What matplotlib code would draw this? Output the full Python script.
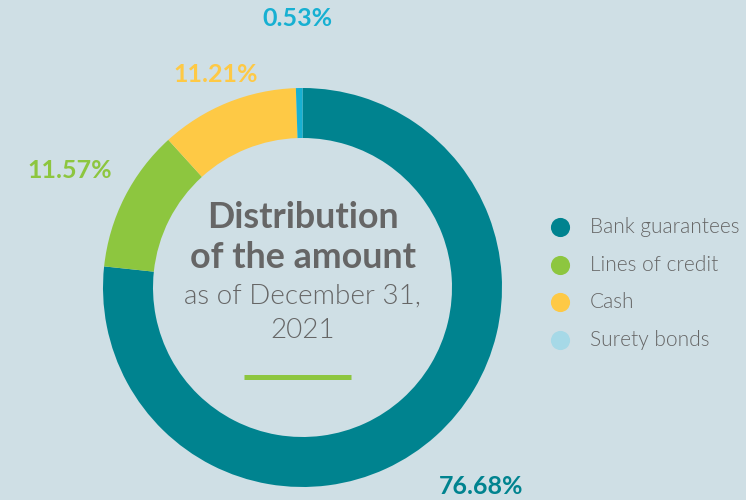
import matplotlib
matplotlib.use("Agg")
import matplotlib.pyplot as plt
from matplotlib.lines import Line2D

# Distribution of the guarantee amount as of December 31, 2021
categories = ["Bank guarantees", "Lines of credit", "Cash", "Surety bonds"]
shares = [76.68, 11.57, 11.21, 0.53]
slice_colors = ["#00838f", "#8dc63f", "#fec945", "#17b0d2"]
legend_colors = ["#00838f", "#8dc63f", "#fec945", "#a6d9e7"]
label_colors = ["#00838f", "#8dc63f", "#fec945", "#17b0d2"]

title_bold = ["Distribution", "of the amount"]
title_light = ["as of December 31,", "2021"]

BG = "#cfdfe5"
TEXT = "#666666"
W, H = 746, 500

fig = plt.figure(figsize=(W / 100, H / 100), dpi=100, facecolor=BG)
ax = fig.add_axes([0, 0, 1, 1])
ax.set_facecolor(BG)

def Y(py):
    return H - py

cx, cy = 302.5, Y(287.5)
r_out, ring = 199.5, 50

ax.pie(shares, colors=slice_colors, startangle=90, counterclock=False,
       center=(cx, cy), radius=r_out,
       wedgeprops=dict(width=ring, linewidth=0))
ax.set_xlim(0, W)
ax.set_ylim(0, H)
ax.set_aspect("equal")
ax.axis("off")

# percentage labels around the ring
label_pos = [(481, 487), (70, 171), (216, 74), (297, 19)]
for val, col, (px, py) in zip(shares, label_colors, label_pos):
    ax.text(px, Y(py), f"{val:.2f}%", color=col, fontsize=18,
            fontweight="bold", family="Lato", ha="center", va="center")

# centre caption
for txt, py in zip(title_bold, [217, 258]):
    ax.text(cx, Y(py), txt, color=TEXT, fontsize=25.8, fontweight="bold",
            family="Lato", ha="center", va="center")
for txt, py in zip(title_light, [296, 330]):
    ax.text(cx, Y(py), txt, color=TEXT, fontsize=20, fontweight=300,
            family="Lato", ha="center", va="center")
ax.add_line(Line2D([244, 351], [Y(376.5), Y(376.5)], color="#8dc63f",
                   linewidth=3.6, solid_capstyle="butt"))

# legend
for i, (name, col) in enumerate(zip(categories, legend_colors)):
    py = 227 + i * 37.7
    ax.scatter([560], [Y(py)], s=190, color=col, linewidths=0)
    ax.text(590, Y(py), name, color=TEXT, fontsize=15, fontweight=300,
            family="Lato", ha="left", va="center")

fig.savefig("out.png", dpi=100, facecolor=BG)
